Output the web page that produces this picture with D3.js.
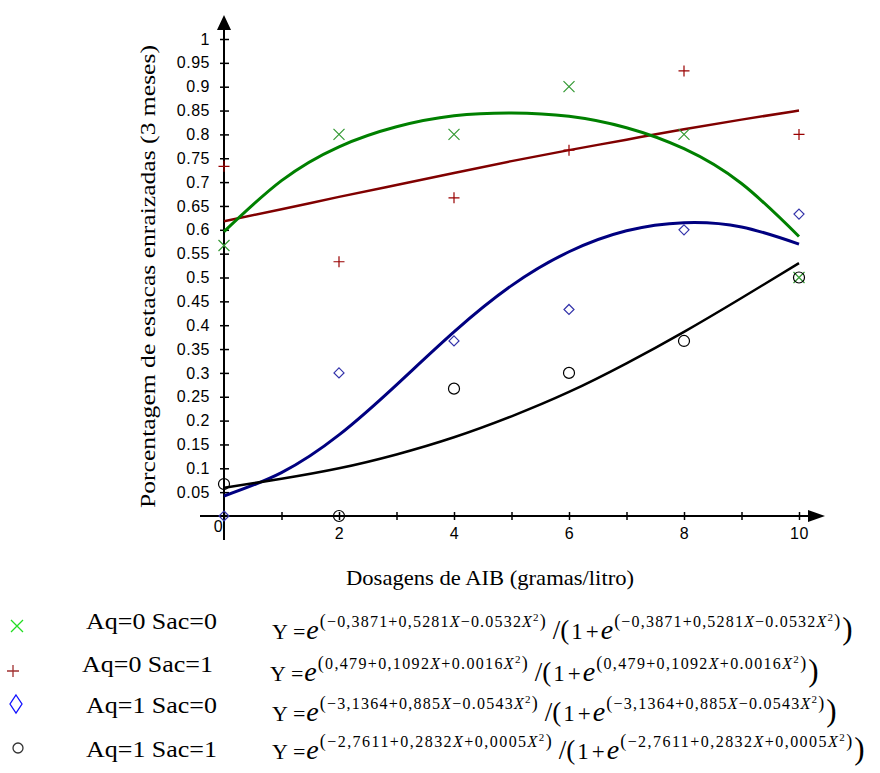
<!DOCTYPE html>
<meta charset="utf-8">
<title>Porcentagem de estacas enraizadas</title>
<style>
body { margin: 0; background: #fff; }
.tick text { font-family: "Liberation Sans", Arial, sans-serif; font-size: 16px; letter-spacing: 0.5px; fill: #000; }
.serif { font-family: "Liberation Serif", "Times New Roman", serif; fill: #000; }
.fit { fill: none; }
</style>
<svg id="chart" width="880" height="773"></svg>
<script src="https://cdn.jsdelivr.net/npm/d3@7"></script>
<script>
// observed data (proportion rooted after 3 months)
const doses = [0, 2, 4, 6, 8, 10];
const aq0sac0 = [0.567, 0.8, 0.8, 0.9, 0.8, 0.5];
const aq0sac1 = [0.733, 0.533, 0.667, 0.767, 0.933, 0.8];
const aq1sac0 = [0.0, 0.3, 0.367, 0.433, 0.6, 0.633];
const aq1sac1 = [0.067, 0.0, 0.267, 0.3, 0.367, 0.5];

// fitted curves at each gram/litre
const curveX = [0, 1, 2, 3, 4, 5, 6, 7, 8, 9, 10];
const fit00 = [0.596, 0.703, 0.774, 0.816, 0.839, 0.845, 0.838, 0.814, 0.770, 0.697, 0.586];
const fit01 = [0.618, 0.643, 0.669, 0.694, 0.719, 0.744, 0.767, 0.789, 0.811, 0.831, 0.850];
const fit10 = [0.042, 0.091, 0.170, 0.275, 0.386, 0.483, 0.554, 0.598, 0.615, 0.606, 0.570];
const fit11 = [0.059, 0.078, 0.100, 0.129, 0.165, 0.209, 0.260, 0.320, 0.386, 0.457, 0.530];

const yTickValues = d3.range(1, 21).map(i => i * 0.05);
const yTickLabels = ["0.05","0.1","0.15","0.2","0.25","0.3","0.35","0.4","0.45","0.5",
                     "0.55","0.6","0.65","0.7","0.75","0.8","0.85","0.9","0.95","1"];
const xTickValues = d3.range(0, 11);
const xTickLabels = ["0","","2","","4","","6","","8","","10"];

const groupNames = ["Aq=0 Sac=0", "Aq=0 Sac=1", "Aq=1 Sac=0", "Aq=1 Sac=1"];
const expTerms = [
  ["\u22120,3871", "+0,5281", "\u22120.0532"],
  ["0,479", "+0,1092", "+0.0016"],
  ["\u22123,1364", "+0,885", "\u22120.0543"],
  ["\u22122,7611", "+0,2832", "+0,0005"]
];

let svg = d3.select("#chart");
svg.append("rect").attr("width", 880).attr("height", 773).attr("fill", "#fff");

let x = d3.scaleLinear().domain([0, 10]).range([224, 799]),
    y = d3.scaleLinear().domain([0, 1]).range([516, 39]);

// axes (through the origin, ticks crossing the line)
let yAxis = svg.append("g")
    .attr("transform", "translate(" + x(0) + ",0)")
    .call(d3.axisLeft(y).tickValues(yTickValues)
      .tickFormat((d, i) => yTickLabels[i]).tickSize(5).tickPadding(9));
yAxis.select(".domain").remove();
yAxis.selectAll(".tick line").attr("x1", -4).attr("x2", 5).attr("stroke", "#000").attr("stroke-width", 1.5);
yAxis.selectAll(".tick text").attr("font-family", null).attr("font-size", null);

let xAxis = svg.append("g")
    .attr("transform", "translate(0," + y(0) + ")")
    .call(d3.axisBottom(x).tickValues(xTickValues)
      .tickFormat((d, i) => xTickLabels[i]).tickSize(4).tickPadding(8));
xAxis.select(".domain").remove();
xAxis.selectAll(".tick line").attr("y1", -4).attr("y2", 4).attr("stroke", "#000").attr("stroke-width", 1.5);
xAxis.selectAll(".tick text").attr("font-family", null).attr("font-size", null);
xAxis.selectAll(".tick").filter(d => d === 0).select("text").attr("x", -6).attr("y", 5);

svg.append("line").attr("x1", x(0)).attr("x2", x(0)).attr("y1", 540).attr("y2", 28)
  .attr("stroke", "#000").attr("stroke-width", 2);
svg.append("line").attr("x1", 200).attr("x2", 810).attr("y1", y(0)).attr("y2", y(0))
  .attr("stroke", "#000").attr("stroke-width", 2);
svg.append("path").attr("d", d3.line()([[x(0) - 7, 30], [x(0), 15], [x(0) + 7, 30]]) + "Z");
svg.append("path").attr("d", d3.line()([[808, y(0) - 6], [825, y(0)], [808, y(0) + 6]]) + "Z");

// axis titles
svg.append("text").attr("class", "serif")
  .attr("x", 346).attr("y", 585)
  .attr("font-size", 22).attr("textLength", 288).attr("lengthAdjust", "spacingAndGlyphs")
  .text("Dosagens de AIB (gramas/litro)");
svg.append("text").attr("class", "serif")
  .attr("transform", "translate(155,508) rotate(-90)")
  .attr("font-size", 22).attr("textLength", 463).attr("lengthAdjust", "spacingAndGlyphs")
  .text("Porcentagem de estacas enraizadas (3 meses)");

// fitted curves
let line = d3.line().curve(d3.curveNatural).x((d, i) => x(curveX[i])).y(d => y(d));
[[fit01, "#800000", 2.5], [fit00, "#008000", 3], [fit10, "#000080", 3], [fit11, "#000", 2.5]]
  .forEach(c => {
    svg.append("path").attr("class", "fit").attr("d", line(c[0]))
      .attr("stroke", c[1]).attr("stroke-width", c[2]);
  });

// markers
const markerShapes = [
  (g, c, s) => g.append("path").attr("d", `M${-s},${-s}L${s},${s}M${-s},${s}L${s},${-s}`).attr("stroke", c),
  (g, c, s) => g.append("path").attr("d", `M${-s},0H${s}M0,${-s}V${s}`).attr("stroke", c),
  (g, c, s, h) => g.append("path").attr("d", `M0,${-(h || s)}L${s},0L0,${h || s}L${-s},0Z`).attr("stroke", c).attr("fill", "none"),
  (g, c, s) => g.append("circle").attr("r", s).attr("stroke", c).attr("fill", "none")
];
const plotColors = ["#339933", "#990000", "#3333aa", "#000"];
const plotSizes = [5.5, 5.5, 5, 5.5];
[aq0sac0, aq0sac1, aq1sac0, aq1sac1].forEach((vals, k) => {
  vals.forEach((v, i) => {
    let g = svg.append("g").attr("transform", "translate(" + x(doses[i]) + "," + y(v) + ")")
      .attr("stroke-width", 1.2);
    markerShapes[k](g, plotColors[k], plotSizes[k]);
  });
});

// legend
const legendColors = ["#22dd22", "#a03030", "#1010ff", "#333"];
const legendMarkerPos = [[17, 626], [13, 671], [16, 704], [18, 748]];
const labelX = [86, 82, 86, 86];
const baseY = [629, 672, 713, 757];
const formX = [272, 270, 272, 272];
const formBase = [639, 681, 721, 759];
const supWidth = [226, 210, 218, 232];

groupNames.forEach((name, k) => {
  let g = svg.append("g").attr("transform", "translate(" + legendMarkerPos[k] + ")")
    .attr("stroke-width", 1.3);
  if (k === 2) markerShapes[2](g, legendColors[k], 6, 9);
  else if (k === 3) markerShapes[3](g, legendColors[k], 5);
  else markerShapes[k](g, legendColors[k], 6);

  svg.append("text").attr("class", "serif")
    .attr("x", labelX[k]).attr("y", baseY[k]).attr("font-size", 23)
    .attr("textLength", 131).attr("lengthAdjust", "spacingAndGlyphs")
    .text(name);

  // formula: Y = e^(...) /(1 + e^(...))
  let cx = formX[k], b = formBase[k];
  let put = (txt, size, italic, extra) => {
    let t = svg.append("text").attr("class", "serif").attr("x", cx).attr("y", b)
      .attr("font-size", size).attr("font-style", italic ? "italic" : null).text(txt);
    cx += t.node().getComputedTextLength() + (extra || 0);
    return t;
  };
  let sup = (w) => {
    let t = svg.append("text").attr("class", "serif").attr("x", cx).attr("y", b - 12)
      .attr("font-size", 16).attr("textLength", w).attr("lengthAdjust", "spacing");
    let terms = expTerms[k];
    t.append("tspan").attr("font-size", 18).text("(");
    t.append("tspan").text(terms[0] + terms[1]);
    t.append("tspan").attr("font-style", "italic").text("X");
    t.append("tspan").text(terms[2]);
    t.append("tspan").attr("font-style", "italic").text("X");
    t.append("tspan").attr("font-size", 11).attr("dy", -6).text("2");
    t.append("tspan").attr("font-size", 18).attr("dy", 6).text(")");
    cx += w;
  };
  put("Y", 22, false, 5);
  put("=", 22, false, 1);
  put("e", 28, true, 1);
  sup(supWidth[k]);
  cx += 7;
  put("/(", 27, false, 2);
  put("1", 23, false, 3);
  put("+", 23, false, 2);
  put("e", 28, true, 1);
  sup(supWidth[k]);
  cx += 2;
  put(")", 31, false);
});
</script>
